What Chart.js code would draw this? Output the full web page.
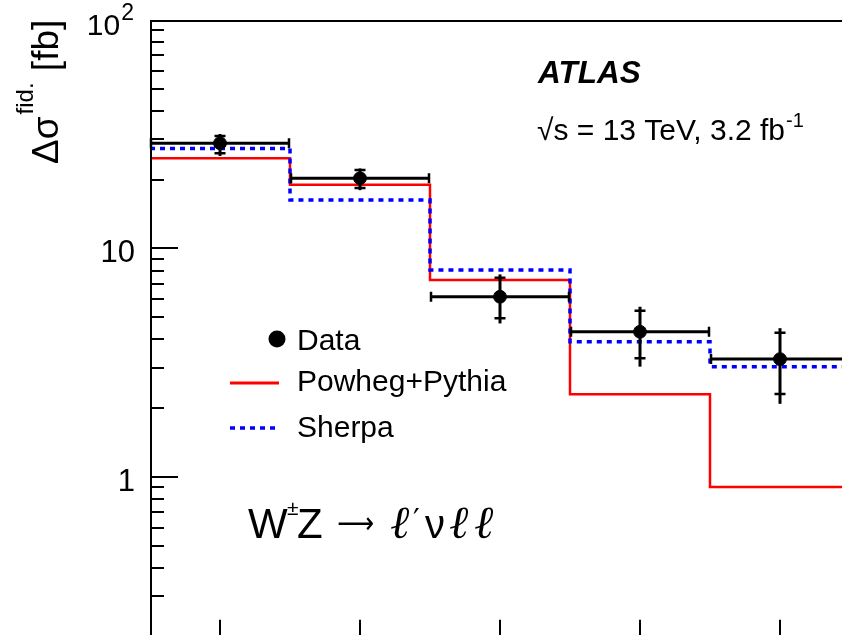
<!DOCTYPE html>
<html><head><meta charset="utf-8">
<script src="https://cdn.jsdelivr.net/npm/chart.js@4.4.1/dist/chart.umd.min.js"></script>
<style>
html,body{margin:0;padding:0;background:#fff;overflow:hidden}
#wrap{position:relative;width:842px;height:635px;overflow:hidden;background:#fff}
canvas{display:block}
</style></head><body>
<div id="wrap"><canvas id="c" width="900" height="680" style="width:900px;height:680px"></canvas></div>
<script>
// ---- data ----
const binEdges = [0, 1, 2, 3, 4, 5];
const binCenters = [0.5, 1.5, 2.5, 3.5, 4.5];
const dataValues   = [28.9, 20.3, 6.15, 4.32, 3.28];
const dataStatHigh = [31.1, 22.05, 7.45, 5.34, 4.28];
const dataStatLow  = [26.1, 18.4, 4.95, 3.31, 2.31];
const dataTotHigh  = [31.7, 22.4, 7.70, 5.56, 4.48];
const dataTotLow   = [25.4, 18.0, 4.70, 3.04, 2.09];
const powhegValues = [24.8, 19.0, 7.28, 2.30, 0.905];
const sherpaValues = [27.4, 16.3, 8.05, 3.91, 3.04];
const yLabelValues = [1, 10, 100];
const yLabelTexts  = ['1', '10', '10'];
const yLabelSups   = ['', '', '2'];
const Y_MIN = 0.2, Y_MAX = 100;

const FONT = '"Liberation Sans", Arial, Helvetica, sans-serif';

function stepPoints(vals) {
  return binEdges.map((e, i) => ({ x: e, y: vals[Math.min(i, vals.length - 1)] }));
}

const decor = {
  id: 'decor',
  beforeDatasetDraw(chart, args) {
    if (args.index !== 2) return;
    const c = chart.ctx, xs = chart.scales.x, ys = chart.scales.y;
    c.save();
    c.strokeStyle = '#000';
    binCenters.forEach((bc, i) => {
      const x = xs.getPixelForValue(bc);
      const x0 = xs.getPixelForValue(binEdges[i]);
      const x1 = xs.getPixelForValue(binEdges[i + 1]);
      const y = ys.getPixelForValue(dataValues[i]);
      c.lineWidth = 3;
      c.beginPath(); c.moveTo(x0, y); c.lineTo(x1, y); c.stroke();
      c.lineWidth = 2.5;
      c.beginPath();
      c.moveTo(x0 + 1, y - 5); c.lineTo(x0 + 1, y + 5);
      c.moveTo(x1 - 1, y - 5); c.lineTo(x1 - 1, y + 5);
      c.stroke();
      const yt = ys.getPixelForValue(dataTotHigh[i]);
      const yb = ys.getPixelForValue(dataTotLow[i]);
      c.lineWidth = 3;
      c.beginPath(); c.moveTo(x, yt); c.lineTo(x, yb); c.stroke();
      const ysh = ys.getPixelForValue(dataStatHigh[i]);
      const ysl = ys.getPixelForValue(dataStatLow[i]);
      c.lineWidth = 2.5;
      c.beginPath();
      c.moveTo(x - 5.5, ysh); c.lineTo(x + 5.5, ysh);
      c.moveTo(x - 5.5, ysl); c.lineTo(x + 5.5, ysl);
      c.stroke();
    });
    c.restore();
  },
  afterDraw(chart) {
    const c = chart.ctx, xs = chart.scales.x, ys = chart.scales.y, a = chart.chartArea;
    c.save();
    // frame
    c.strokeStyle = '#000';
    c.lineWidth = 2;
    c.beginPath();
    c.moveTo(a.left + 1, a.bottom); c.lineTo(a.left + 1, a.top + 1);
    c.lineTo(a.right, a.top + 1); c.lineTo(a.right, a.bottom); c.closePath();
    c.stroke();
    // y ticks
    c.lineWidth = 2;
    c.beginPath();
    for (let d = 0.1; d <= 10.001; d *= 10) {
      for (let k = 1; k <= 9; k++) {
        const v = k * d;
        if (v < Y_MIN - 1e-9 || v > Y_MAX + 1e-9) continue;
        const y = Math.round(ys.getPixelForValue(v));
        const len = k === 1 ? 28 : 14;
        c.moveTo(a.left, y); c.lineTo(a.left + len, y);
      }
    }
    // x ticks
    binCenters.forEach(bc => {
      const x = Math.round(xs.getPixelForValue(bc));
      c.moveTo(x, a.bottom); c.lineTo(x, a.bottom - 17);
    });
    c.stroke();
    // y tick labels
    c.fillStyle = '#000';
    c.textBaseline = 'alphabetic';
    yLabelValues.forEach((v, i) => {
      const y = ys.getPixelForValue(v);
      const right = 134;
      c.textAlign = 'right';
      if (yLabelSups[i]) {
        c.font = '23px ' + FONT;
        const sw = c.measureText(yLabelSups[i]).width;
        c.fillText(yLabelSups[i], right, y);
        c.font = '30px ' + FONT;
        c.fillText(yLabelTexts[i], right - sw - 1, y + 15);
      } else {
        c.font = '31px ' + FONT;
        c.fillText(yLabelTexts[i], right + 1, y + 14);
      }
    });
    // y title
    c.save();
    c.translate(58, 164);
    c.rotate(-Math.PI / 2);
    c.textAlign = 'left';
    c.font = '37px ' + FONT;
    c.fillText('\u0394\u03c3', 0, 0);
    let w = c.measureText('\u0394\u03c3').width;
    c.font = '24px ' + FONT;
    c.fillText('fid.', w + 2, -25);
    w += 2 + c.measureText('fid.').width;
    c.font = '37px ' + FONT;
    c.fillText(' [fb]', w + 1, 0);
    c.restore();
    // ATLAS label
    c.textAlign = 'left';
    c.font = 'italic bold 31.5px ' + FONT;
    c.fillText('ATLAS', 538, 83);
    c.font = '30px ' + FONT;
    const lumi = '\u221as = 13 TeV, 3.2 fb';
    c.fillText(lumi, 537, 140);
    const lw = c.measureText(lumi).width;
    c.font = '20px ' + FONT;
    c.fillText('-1', 537 + lw + 1, 127);
    // legend
    c.beginPath(); c.arc(277, 339, 8.5, 0, Math.PI * 2); c.fill();
    c.font = '30px ' + FONT;
    c.fillText('Data', 297, 350);
    c.strokeStyle = '#ff0000'; c.lineWidth = 3;
    c.beginPath(); c.moveTo(230, 383); c.lineTo(279, 383); c.stroke();
    c.fillText('Powheg+Pythia', 297, 391);
    c.strokeStyle = '#0000ff'; c.lineWidth = 3.5; c.setLineDash([5, 5]);
    c.beginPath(); c.moveTo(230, 428); c.lineTo(279, 428); c.stroke();
    c.setLineDash([]);
    c.fillText('Sherpa', 297, 437);
    // process label
    c.font = '42px ' + FONT;
    c.fillText('W', 248, 538);
    c.font = '21px ' + FONT;
    c.fillText('\u00b1', 287, 515);
    c.font = '42px ' + FONT;
    c.fillText('Z', 297, 538);
    c.font = '30px "DejaVu Sans", sans-serif';
    const aw = c.measureText('\u27f6').width;
    c.save(); c.translate(337, 533); c.scale(37 / aw, 1); c.fillText('\u27f6', 0, 0); c.restore();
    c.font = 'italic 46px "DejaVu Serif", "Liberation Serif", serif';
    c.fillText('\u2113', 390, 538);
    c.font = '30px "DejaVu Sans", sans-serif';
    c.fillText('\u2032', 413, 530);
    c.font = '40px ' + FONT;
    c.fillText('\u03bd', 425, 538);
    c.font = 'italic 46px "DejaVu Serif", "Liberation Serif", serif';
    c.fillText('\u2113', 449, 538);
    c.fillText('\u2113', 474, 538);
    c.restore();
  }
};

new Chart(document.getElementById('c'), {
  type: 'line',
  data: {
    datasets: [
      {
        label: 'Powheg+Pythia', data: stepPoints(powhegValues), stepped: true,
        borderColor: '#ff0000', borderWidth: 2.5, pointRadius: 0, fill: false, order: 2
      },
      {
        label: 'Sherpa', data: stepPoints(sherpaValues), stepped: true,
        borderColor: '#0000ff', borderWidth: 3.5, borderDash: [5, 5], pointRadius: 0, fill: false, order: 1
      },
      {
        label: 'Data', data: binCenters.map((x, i) => ({ x: x, y: dataValues[i] })),
        showLine: false, pointRadius: 6.4, pointBackgroundColor: '#000', pointBorderColor: '#000',
        pointBorderWidth: 1, order: 0
      }
    ]
  },
  options: {
    responsive: false, animation: false, devicePixelRatio: 1, events: [],
    layout: { padding: { left: 150, top: 20, right: 50, bottom: 43.3 } },
    scales: {
      x: { type: 'linear', min: 0, max: 5, display: false },
      y: { type: 'logarithmic', min: Y_MIN, max: Y_MAX, display: false }
    },
    plugins: { legend: { display: false }, tooltip: { enabled: false } }
  },
  plugins: [decor]
});
</script>
</body></html>
